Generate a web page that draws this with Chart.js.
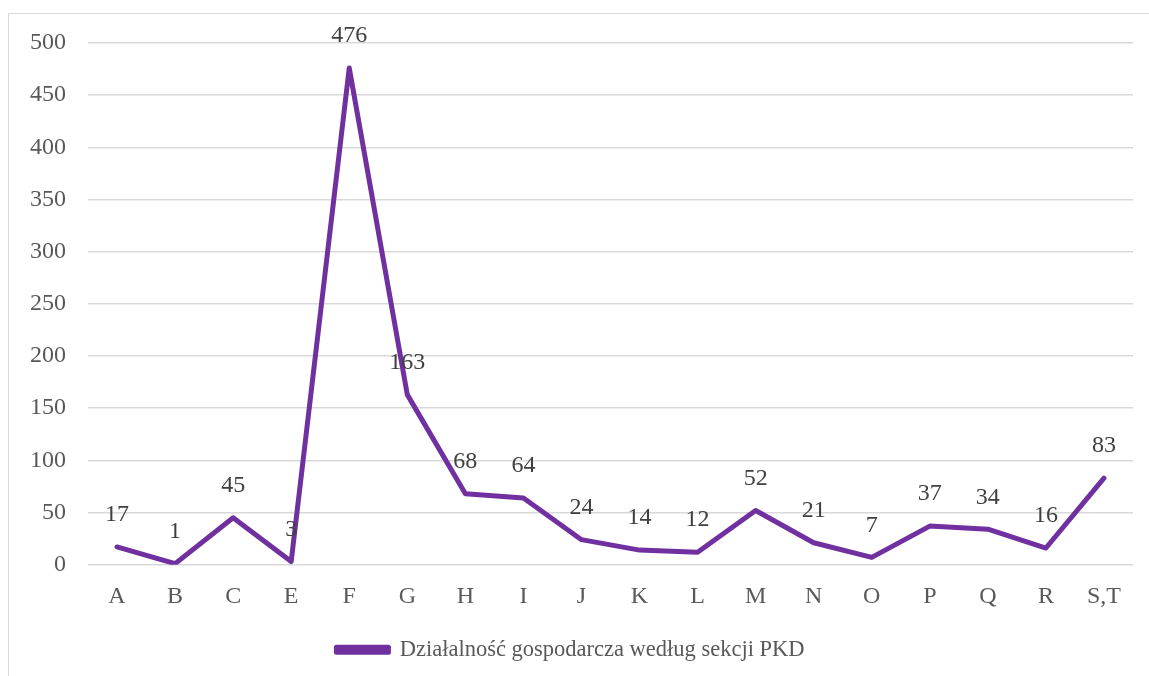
<!DOCTYPE html>
<html>
<head>
<meta charset="utf-8">
<script src="https://cdn.jsdelivr.net/npm/chart.js@4/dist/chart.umd.min.js"></script>
<style>
  body { margin: 0; background: #fff; }
  #wrap { position: absolute; left: 0; top: 0; width: 1149px; height: 676px; }
  #frame { position: absolute; left: 8px; top: 13px; width: 1160px; height: 700px; border: 1px solid #d9d9d9; }
</style>
</head>
<body>
<div id="frame"></div>
<div id="wrap"><canvas id="chart"></canvas></div>
<script>
const categories = ['A', 'B', 'C', 'E', 'F', 'G', 'H', 'I', 'J', 'K', 'L', 'M', 'N', 'O', 'P', 'Q', 'R', 'S,T'];
const values = [17, 1, 45, 3, 476, 163, 68, 64, 24, 14, 12, 52, 21, 7, 37, 34, 16, 83];
const seriesName = 'Działalność gospodarcza według sekcji PKD';

const fontFamily = "'Liberation Serif', 'DejaVu Serif', serif";

const valueLabels = {
    id: 'valueLabels',
    afterDatasetsDraw(chart) {
        const ctx = chart.ctx;
        const meta = chart.getDatasetMeta(0);
        ctx.save();
        ctx.font = '24px ' + fontFamily;
        ctx.fillStyle = '#404040';
        ctx.textAlign = 'center';
        ctx.textBaseline = 'middle';
        meta.data.forEach((pt, i) => {
            ctx.fillText(String(values[i]), pt.x, pt.y - 32);
        });
        ctx.restore();
    }
};

new Chart(document.querySelector('#chart'), {
    type: 'line',
    data: {
        labels: categories,
        datasets: [{
            label: seriesName,
            data: values,
            borderColor: '#7030a0',
            backgroundColor: '#7030a0',
            borderWidth: 5,
            pointRadius: 0,
            tension: 0,
            borderJoinStyle: 'round',
            borderCapStyle: 'round'
        }]
    },
    options: {
        responsive: true,
        maintainAspectRatio: false,
        animation: false,
        layout: {
            padding: { left: 8, right: 16, top: 43, bottom: 5 }
        },
        plugins: {
            legend: {
                position: 'bottom',
                labels: {
                    color: '#595959',
                    font: { family: fontFamily, size: 22.5 },
                    boxWidth: 52,
                    boxHeight: 5,
                    padding: 9
                }
            },
            tooltip: { enabled: false }
        },
        scales: {
            y: {
                min: 0,
                max: 500,
                ticks: {
                    stepSize: 50,
                    color: '#595959',
                    font: { family: fontFamily, size: 24 },
                    padding: 22
                },
                grid: { color: '#d9d9d9', lineWidth: 1.5, drawTicks: false },
                border: { display: false }
            },
            x: {
                offset: true,
                ticks: {
                    color: '#595959',
                    font: { family: fontFamily, size: 24 },
                    padding: 18,
                    maxRotation: 0,
                    autoSkip: false
                },
                grid: { display: false, drawTicks: false },
                border: { display: false }
            }
        }
    },
    plugins: [valueLabels]
});
</script>
</body>
</html>
